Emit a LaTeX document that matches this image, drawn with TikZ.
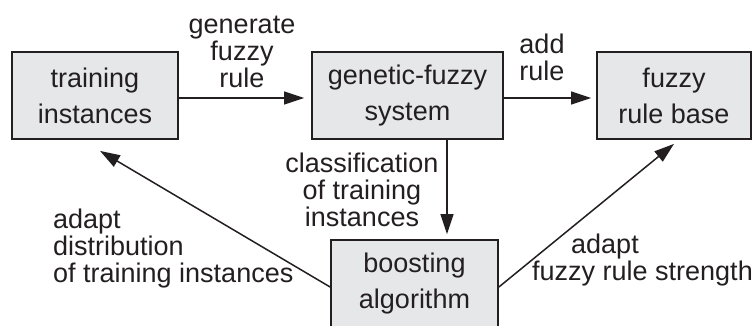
\documentclass[tikz,border=0pt]{standalone}
\usepackage{fontspec}
\setmainfont{Liberation Sans}
\usetikzlibrary{arrows.meta,calc}
\definecolor{boxfill}{RGB}{230,231,233}
\definecolor{ink}{RGB}{35,31,32}
\newcommand{\topstrut}{\rule{0pt}{20pt}}
\begin{document}
\begin{tikzpicture}[x=1pt,y=-1pt,
  box/.style={draw=ink, line width=1.8pt, fill=boxfill, inner sep=0pt, align=center,
    minimum height=87pt, font=\fontsize{27}{36}\selectfont, text=ink},
  lab/.style={inner sep=0pt, font=\fontsize{27}{27}\selectfont, text=ink},
  arr/.style={draw=ink, line width=1.5pt, -{Triangle[length=20pt,width=13pt]}}]
\useasboundingbox (0,0) rectangle (753,326);
\clip (0,0) rectangle (753,326);
\node[box, minimum width=166pt] (ti) at (95,95.5) {training\\instances};
\node[box, minimum width=191pt] (gf) at (407.5,95.5) {genetic-fuzzy\\system};
\node[box, minimum width=154pt] (rb) at (674,95.5) {fuzzy\\rule base};
\node[box, minimum width=167pt] (ba) at (414.5,283.5) {boosting\\algorithm};
\draw[arr] ($(ti.east)+(0,2.5)$) -- ($(gf.west)+(-7,2.5)$);
\draw[arr] ($(gf.east)+(0,2.5)$) -- ($(rb.west)+(-5,2.5)$);
\draw[arr] ($(gf.south)+(39.5,0)$) -- ($(ba.north)+(32.5,-5)$);
\draw[arr] ($(ba.west)+(0,3.5)$) -- ($(ti.south)+(5,11)$);
\draw[arr] ($(ba.east)+(0,3.5)$) -- ($(rb.south)+(0,4)$);
\node[lab, align=center, anchor=north] (l1) at (242,13) {\topstrut generate\\fuzzy\\rule};
\node[lab, align=center, anchor=north] (l2) at (542,33) {\topstrut add\\rule};
\node[lab, align=center, anchor=north] (l3) at (362,152) {\topstrut classification\\of training\\instances};
\node[lab, align=left, anchor=north west] (l4) at (53,208) {\topstrut adapt\\distribution\\of training instances};
\node[lab, align=left, anchor=north west] (l5) at (532,233) {\topstrut\hspace*{39pt}adapt\\fuzzy rule strength};
\end{tikzpicture}
\end{document}
